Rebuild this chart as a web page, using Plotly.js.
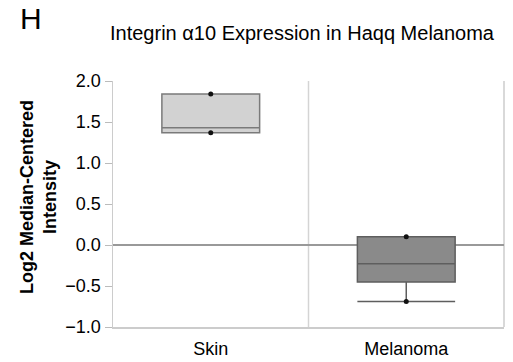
<!DOCTYPE html>
<html>
<head>
<meta charset="utf-8">
<script src="https://cdn.plot.ly/plotly-3.0.1.min.js"></script>
<style>
  html, body { margin: 0; padding: 0; background: #fff; }
  #chart { width: 513px; height: 362px; }
</style>
</head>
<body>
<div id="chart"></div>
<script>
// Integrin α10 expression summary per tissue group (log2 median-centered)
const categories = ['Skin', 'Melanoma'];
const q1Values = [1.37, -0.45];
const medianValues = [1.43, -0.23];
const q3Values = [1.84, 0.10];
const lowerWhiskers = [1.37, -0.69];
const upperWhiskers = [1.84, 0.10];
const minValues = [1.37, -0.69];
const maxValues = [1.84, 0.10];
const yTicks = [-1.0, -0.5, 0.0, 0.5, 1.0, 1.5, 2.0];

const boxStyles = [
  { fill: '#d2d2d2', line: '#7a7a7a' },
  { fill: '#8a8a8a', line: '#5e5e5e' }
];

const traces = categories.map((cat, i) => ({
  type: 'box',
  x: [cat],
  q1: [q1Values[i]],
  median: [medianValues[i]],
  q3: [q3Values[i]],
  lowerfence: [lowerWhiskers[i]],
  upperfence: [upperWhiskers[i]],
  width: 0.5,
  whiskerwidth: 1,
  fillcolor: boxStyles[i].fill,
  line: { color: boxStyles[i].line, width: 1.5 },
  boxpoints: false,
  hoverinfo: 'skip',
  showlegend: false
}));

// min / max markers
traces.push({
  type: 'scatter',
  mode: 'markers',
  x: categories.concat(categories),
  y: minValues.concat(maxValues),
  marker: { color: '#111', size: 5 },
  hoverinfo: 'skip',
  showlegend: false
});

const layout = {
  width: 513,
  height: 362,
  margin: { l: 113, r: 9, t: 81, b: 35 },
  paper_bgcolor: '#ffffff',
  plot_bgcolor: '#ffffff',
  font: { family: 'Liberation Sans, Arial, sans-serif', color: '#000' },
  boxmode: 'overlay',
  xaxis: {
    type: 'category',
    range: [-0.5, 1.5],
    showgrid: false,
    zeroline: false,
    showline: true,
    linecolor: '#cccccc',
    linewidth: 1.5,
    ticks: '',
    tickfont: { size: 18 },
    ticklabelstandoff: 5,
    fixedrange: true
  },
  yaxis: {
    range: [-1, 2],
    tickvals: yTicks,
    tickformat: '.1f',
    showgrid: false,
    zeroline: true,
    zerolinecolor: '#999999',
    zerolinewidth: 1.5,
    showline: true,
    linecolor: '#cccccc',
    linewidth: 1.5,
    ticks: 'outside',
    ticklen: 7,
    tickcolor: '#bbbbbb',
    tickfont: { size: 18 },
    ticklabelstandoff: 0,
    fixedrange: true
  },
  shapes: [
    { type: 'line', xref: 'paper', yref: 'paper', x0: 0.5, x1: 0.5, y0: 0, y1: 1,
      line: { color: '#d4d4d4', width: 1.5 }, layer: 'below' },
    { type: 'line', xref: 'paper', yref: 'paper', x0: 1, x1: 1, y0: 0, y1: 1,
      line: { color: '#cccccc', width: 1.5 }, layer: 'below' }
  ],
  annotations: [
    { text: 'H', xref: 'paper', yref: 'paper', x: -0.209, y: 1.255,
      xanchor: 'center', yanchor: 'middle', showarrow: false,
      font: { size: 30 } },
    { text: 'Integrin α10 Expression in Haqq Melanoma', xref: 'paper', yref: 'paper',
      x: 0.484, y: 1.195, xanchor: 'center', yanchor: 'middle', showarrow: false,
      font: { size: 20 } },
    { text: '<b>Log2 Median-Centered<br>Intensity</b>', xref: 'paper', yref: 'paper',
      x: -0.191, y: 0.53, xanchor: 'center', yanchor: 'middle', textangle: -90,
      showarrow: false, font: { size: 18 } }
  ]
};

Plotly.newPlot('chart', traces, layout, { displayModeBar: false, staticPlot: true });
</script>
</body>
</html>
